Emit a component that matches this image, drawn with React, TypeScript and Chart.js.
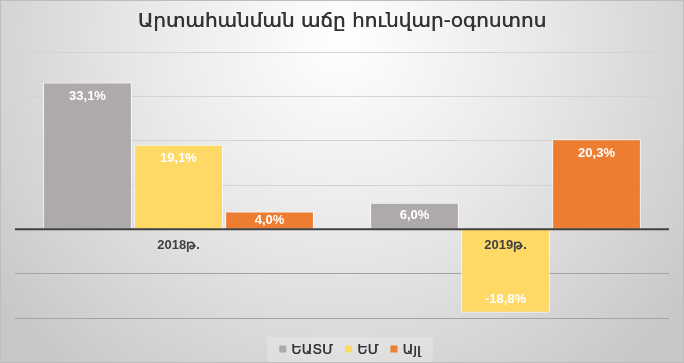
import React, { useEffect, useRef } from "react";
import { Chart, registerables } from "chart.js";

Chart.register(...registerables);

const titleText = "Արտահանման աճը հունվար-օգոստոս";
const categories = ["2018թ.", "2019թ."];
const seriesNames = ["ԵԱՏՄ", "ԵՄ", "Այլ"];
const eaeuValues = [33.1, 6.0];
const euValues = [19.1, -18.8];
const otherValues = [4.0, 20.3];
const seriesColors = ["#AEAAAA", "#FFD966", "#ED7D31"];
const yMin = -20;
const yMax = 40;
const yStep = 10;

const fmt = (v: number) => v.toFixed(1).replace(".", ",") + "%";

const decorPlugin = {
  id: "decor",
  beforeDraw(chart: any) {
    const { ctx, width, height } = chart;
    ctx.save();
    const g = ctx.createRadialGradient(342, 40, 0, 342, 40, 430);
    g.addColorStop(0, "#ffffff");
    g.addColorStop(0.45, "#e9e9e9");
    g.addColorStop(1, "#c8c8c8");
    ctx.fillStyle = g;
    ctx.fillRect(0, 0, width, height);
    ctx.strokeStyle = "#bdbdbd";
    ctx.lineWidth = 1;
    ctx.strokeRect(0.5, 0.5, width - 1, height - 1);
    // title
    ctx.fillStyle = "#333333";
    ctx.font = "20px 'DejaVu Sans'";
    ctx.textAlign = "center";
    ctx.textBaseline = "middle";
    ctx.fillText(titleText, 342, 22);
    ctx.fillText(titleText, 342.4, 22);
    // legend
    ctx.font = "14px 'DejaVu Sans'";
    const sq = 7;
    const gapText = 5;
    const gapItem = 12;
    const widths = seriesNames.map((n) => ctx.measureText(n).width);
    const total = widths.reduce((a, w) => a + sq + gapText + w, 0) + gapItem * (seriesNames.length - 1);
    const cy = 349;
    const boxPad = 12;
    let x = 350 - total / 2;
    ctx.fillStyle = "rgba(255,255,255,0.22)";
    ctx.fillRect(x - boxPad, 337, total + boxPad * 2, 25);
    ctx.textAlign = "left";
    seriesNames.forEach((n, i) => {
      ctx.fillStyle = seriesColors[i];
      ctx.fillRect(x, cy - sq / 2, sq, sq);
      x += sq + gapText;
      ctx.fillStyle = "#333333";
      ctx.fillText(n, x, cy + 1);
      ctx.fillText(n, x + 0.3, cy + 1);
      x += widths[i] + gapItem;
    });
    ctx.restore();
  },
  afterDatasetsDraw(chart: any) {
    const { ctx, chartArea, scales } = chart;
    const y0 = scales.y.getPixelForValue(0);
    ctx.save();
    ctx.strokeStyle = "#404040";
    ctx.lineWidth = 2;
    ctx.beginPath();
    ctx.moveTo(chartArea.left, y0);
    ctx.lineTo(chartArea.right, y0);
    ctx.stroke();
    // data labels
    ctx.font = "bold 13px 'Liberation Sans'";
    ctx.textAlign = "center";
    ctx.textBaseline = "middle";
    chart.data.datasets.forEach((ds: any, di: number) => {
      const meta = chart.getDatasetMeta(di);
      meta.data.forEach((bar: any, i: number) => {
        const v = ds.data[i];
        const mid = (bar.y + bar.base) / 2;
        const yy = v >= 0 ? Math.min(bar.y + 14, mid) : Math.max(bar.y - 13, mid);
        ctx.fillStyle = "#ffffff";
        ctx.fillText(fmt(v), bar.x, yy);
      });
    });
    // category labels
    ctx.fillStyle = "#404040";
    categories.forEach((c, i) => {
      const x = scales.x.getPixelForValue(i);
      ctx.fillText(c, x, y0 + 16);
    });
    ctx.restore();
  },
};

export default function App() {
  const ref = useRef<HTMLCanvasElement | null>(null);
  useEffect(() => {
    if (!ref.current) return;
    const mk = (label: string, data: number[], color: string) => ({
      label,
      data,
      backgroundColor: color,
      borderColor: "rgba(255,255,255,0.75)",
      borderWidth: 1,
      categoryPercentage: 0.835,
      barPercentage: 0.975,
    });
    const chart = new Chart(ref.current, {
      type: "bar",
      data: {
        labels: categories,
        datasets: [
          mk(seriesNames[0], eaeuValues, seriesColors[0]),
          mk(seriesNames[1], euValues, seriesColors[1]),
          mk(seriesNames[2], otherValues, seriesColors[2]),
        ],
      },
      options: {
        responsive: false,
        animation: false,
        layout: { padding: { top: 52, bottom: 45, left: 15, right: 15 } },
        plugins: {
          legend: { display: false },
          title: { display: false },
          tooltip: { enabled: false },
        },
        scales: {
          x: { display: false },
          y: {
            min: yMin,
            max: yMax,
            ticks: { display: false, stepSize: yStep },
            border: { display: false },
            grid: {
              drawTicks: false,
              lineWidth: 1,
              color: (c: any) =>
                c.tick && c.tick.value === 0
                  ? "rgba(0,0,0,0)"
                  : c.tick && c.tick.value < 0
                  ? "#a3a3a3"
                  : "#d3d3d3",
            },
            afterFit: (s: any) => {
              s.width = 0;
            },
          },
        },
      },
      plugins: [decorPlugin],
    });
    return () => chart.destroy();
  }, []);
  return (
    <div style={{ position: "fixed", left: 0, top: 0, width: 684, height: 363 }}>
      <canvas ref={ref} width={684} height={363} />
    </div>
  );
}
